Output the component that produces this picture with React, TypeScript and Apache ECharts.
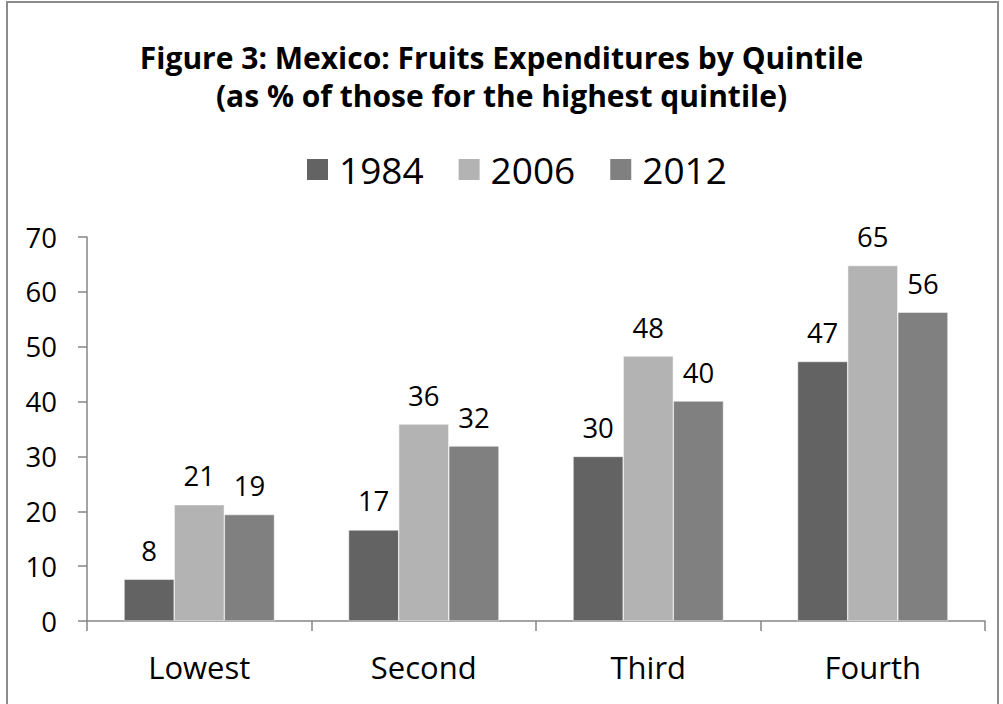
import React, { useEffect, useRef } from "react";
import * as echarts from "echarts";

const categories = ["Lowest", "Second", "Third", "Fourth"];
const seriesNames = ["1984", "2006", "2012"];
const v1984 = [7.6, 16.6, 30.0, 47.3];
const v2006 = [21.2, 35.9, 48.3, 64.8];
const v2012 = [19.4, 31.9, 40.1, 56.3];
const colors = ["#636363", "#b3b3b3", "#808080"];
const yTicks = { min: 0, max: 70, interval: 10 };

const FONT = "Open Sans";

export default function App() {
  const ref = useRef<HTMLDivElement>(null);
  useEffect(() => {
    if (!ref.current) return;
    const chart = echarts.init(ref.current, null, { renderer: "svg" });
    const values = [v1984, v2006, v2012];
    chart.setOption({
      animation: false,
      backgroundColor: "#ffffff",
      textStyle: { fontFamily: FONT },
      title: {
        text: "Figure 3: Mexico: Fruits Expenditures by Quintile\n(as % of those for the highest quintile)",
        left: "center",
        top: 38,
        padding: [0, 0, 0, 16],
        textStyle: {
          fontFamily: FONT,
          fontWeight: "bold",
          fontSize: 30,
          lineHeight: 38,
          color: "#000000",
        },
      },
      legend: {
        top: 151,
        left: 305,
        padding: 0,
        itemWidth: 23,
        itemHeight: 23,
        itemGap: 33,
        icon: "rect",
        data: seriesNames,
        textStyle: { fontFamily: FONT, fontSize: 37, color: "#000000", padding: [0, 0, 0, 5] },
      },
      graphic: [
        {
          type: "rect",
          shape: { x: 7, y: 2, width: 991, height: 740 },
          style: { fill: "none", stroke: "#8c8c8c", lineWidth: 2 },
          silent: true,
        },
      ],
      grid: { left: 87, top: 237, right: 18, bottom: 83, containLabel: false },
      xAxis: {
        type: "category",
        data: categories,
        axisLine: { lineStyle: { color: "#868686", width: 1.5 } },
        axisTick: { show: true, length: 10, lineStyle: { color: "#868686", width: 1.5 } },
        axisLabel: { fontFamily: FONT, fontSize: 31, color: "#000000", margin: 30 },
      },
      yAxis: {
        type: "value",
        min: yTicks.min,
        max: yTicks.max,
        interval: yTicks.interval,
        splitLine: { show: false },
        axisLine: { show: true, lineStyle: { color: "#868686", width: 1.5 } },
        axisTick: { show: true, length: 9, lineStyle: { color: "#868686", width: 1.5 } },
        axisLabel: { fontFamily: FONT, fontSize: 27.5, color: "#000000", margin: 30 },
      },
      series: seriesNames.map((name, i) => ({
        name,
        type: "bar",
        data: values[i],
        barGap: "0%",
        barCategoryGap: "33%",
        itemStyle: { color: colors[i], borderColor: "#ffffff", borderWidth: 0.5 },
        label: {
          show: true,
          position: "top",
          distance: 15,
          fontFamily: FONT,
          fontSize: 27.5,
          color: "#000000",
          formatter: (p: any) => String(Math.round(p.value)),
        },
      })),
    });
    return () => chart.dispose();
  }, []);
  return (
    <div
      ref={ref}
      style={{ position: "absolute", left: 0, top: 0, width: 1003, height: 704 }}
    />
  );
}
